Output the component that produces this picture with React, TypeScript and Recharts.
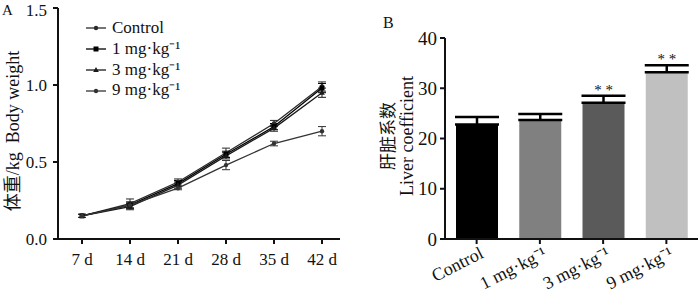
import React from "react";
import {
  LineChart, Line, BarChart, Bar, XAxis, YAxis, ErrorBar, Legend, Cell, LabelList,
} from "recharts";

const FONT = '"Liberation Serif", "Times New Roman", "Noto Sans CJK SC", serif';
const CJK = '"Noto Sans CJK SC", "Liberation Serif", serif';

// panel A: body weight (kg) over time
const DAYS = ["7 d", "14 d", "21 d", "28 d", "35 d", "42 d"];
const CONTROL = [0.15, 0.23, 0.37, 0.56, 0.75, 0.99];
const DOSE_1 = [0.15, 0.22, 0.36, 0.55, 0.73, 0.98];
const DOSE_3 = [0.15, 0.21, 0.35, 0.54, 0.72, 0.95];
const DOSE_9 = [0.15, 0.22, 0.33, 0.48, 0.62, 0.70];
const CONTROL_ERR = [0.01, 0.03, 0.02, 0.03, 0.02, 0.03];
const DOSE_1_ERR = [0.01, 0.02, 0.02, 0.02, 0.02, 0.03];
const DOSE_3_ERR = [0.01, 0.02, 0.02, 0.02, 0.02, 0.03];
const DOSE_9_ERR = [0.01, 0.02, 0.01, 0.03, 0.015, 0.03];

// panel B: liver coefficient
const GROUPS = ["Control", "1 mg·kg⁻¹", "3 mg·kg⁻¹", "9 mg·kg⁻¹"];
const LIVER = [22.8, 23.7, 27.1, 33.2];
const LIVER_ERR = [1.5, 1.2, 1.4, 1.4];
const SIG = ["", "", "* *", "* *"];
const BAR_COLORS = ["#000000", "#808080", "#5a5a5a", "#c0c0c0"];

const SERIES = [
  { key: "control", name: "Control", err: "controlErr", color: "#2a2a2a", shape: "circle" },
  { key: "dose1", name: "1 mg·kg⁻¹", err: "dose1Err", color: "#000000", shape: "square" },
  { key: "dose3", name: "3 mg·kg⁻¹", err: "dose3Err", color: "#1a1a1a", shape: "triangle" },
  { key: "dose9", name: "9 mg·kg⁻¹", err: "dose9Err", color: "#333333", shape: "circle" },
];

const weightData = DAYS.map((day, i) => ({
  day,
  control: CONTROL[i], controlErr: CONTROL_ERR[i],
  dose1: DOSE_1[i], dose1Err: DOSE_1_ERR[i],
  dose3: DOSE_3[i], dose3Err: DOSE_3_ERR[i],
  dose9: DOSE_9[i], dose9Err: DOSE_9_ERR[i],
}));

const liverData = GROUPS.map((group, i) => ({
  group, value: LIVER[i], err: [0, LIVER_ERR[i]], sig: SIG[i],
}));

const Marker = ({ cx, cy, shape, color }: any) => {
  if (cx == null || cy == null) return null;
  if (shape === "square") return <rect x={cx - 2.5} y={cy - 2.5} width={5} height={5} fill={color} />;
  if (shape === "triangle")
    return <path d={`M${cx},${cy - 3}L${cx + 2.8},${cy + 2}L${cx - 2.8},${cy + 2}Z`} fill={color} />;
  return <circle cx={cx} cy={cy} r={2.2} fill={color} />;
};

const WeightLegend = () => (
  <div style={{ fontFamily: FONT, fontSize: 17, color: "#111", lineHeight: "20.8px" }}>
    {SERIES.map((s) => (
      <div key={s.key} style={{ display: "flex", alignItems: "center" }}>
        <svg width={22} height={10} style={{ marginRight: 5 }}>
          <line x1={1} y1={5} x2={21} y2={5} stroke={s.color} strokeWidth={1.3} />
          <Marker cx={11} cy={5} shape={s.shape} color={s.color} />
        </svg>
        <span>{s.name}</span>
      </div>
    ))}
  </div>
);

const GroupTick = ({ x, y, payload }: any) => (
  <text
    x={x + 8}
    y={y + 11}
    textAnchor="end"
    transform={`rotate(-27 ${x + 8} ${y + 11})`}
    fontFamily={FONT}
    fontSize={18}
    fill="#111"
  >
    {payload.value}
  </text>
);

const SigLabel = ({ x, y, width, value }: any) =>
  value ? (
    <text x={x + width / 2} y={y - 8} textAnchor="middle" fontFamily={FONT} fontSize={15} fill="#111">
      {value}
    </text>
  ) : null;

const axisProps = {
  stroke: "#111",
  strokeWidth: 2,
  tickSize: 5,
};

export default function App() {
  return (
    <div style={{ position: "absolute", left: 0, top: 0, width: 700, height: 291, background: "#fff" }}>
      <svg width={700} height={291} style={{ position: "absolute", left: 0, top: 0 }}>
        <text x={2} y={15} fontFamily={FONT} fontSize={15} fill="#111">A</text>
        <text x={383} y={28} fontFamily={FONT} fontSize={16} fill="#111">B</text>
        <g transform="translate(19 131) rotate(-90)">
          <text x={0} y={0} textAnchor="middle" fontFamily={FONT} fontSize={18} fill="#111">
            <tspan fontFamily={CJK}>体重</tspan>/kg{"\u00a0\u00a0"}Body weight
          </text>
        </g>
        <g transform="translate(400 136) rotate(-90)">
          <text x={0} y={-6} textAnchor="middle" fontFamily={CJK} fontSize={17} fill="#111">
            肝脏系数
          </text>
          <text x={0} y={13} textAnchor="middle" fontFamily={FONT} fontSize={18} fill="#111">
            Liver coefficient
          </text>
        </g>
      </svg>

      <div style={{ position: "absolute", left: 0, top: 0 }}>
        <LineChart width={350} height={291} data={weightData} margin={{ top: 8, right: 10, bottom: 22, left: 0 }}>
          <XAxis
            dataKey="day"
            {...axisProps}
            height={30}
            tickMargin={9}
            padding={{ left: 24, right: 18 }}
            tick={{ fill: "#111", fontSize: 17, fontFamily: FONT }}
          />
          <YAxis
            {...axisProps}
            width={58}
            domain={[0, 1.5]}
            ticks={[0, 0.5, 1, 1.5]}
            tickMargin={6}
            tick={{ fill: "#111", fontSize: 17, fontFamily: FONT }}
            tickFormatter={(v: number) => v.toFixed(1)}
          />
          <Legend
            layout="vertical"
            align="center"
            verticalAlign="middle"
            wrapperStyle={{ left: 85, top: 18, width: 130 }}
            content={() => <WeightLegend />}
          />
          {SERIES.map((s) => (
            <Line
              key={s.key}
              dataKey={s.key}
              name={s.name}
              stroke={s.color}
              strokeWidth={1.3}
              isAnimationActive={false}
              dot={(p: any) => <Marker key={`${s.key}-${p.index}`} cx={p.cx} cy={p.cy} shape={s.shape} color={s.color} />}
              activeDot={false}
            >
              <ErrorBar dataKey={s.err} width={4} stroke={s.color} strokeWidth={1} />
            </Line>
          ))}
        </LineChart>
      </div>

      <div style={{ position: "absolute", left: 350, top: 0 }}>
        <BarChart width={350} height={291} data={liverData} margin={{ top: 38, right: 2, bottom: 22, left: 0 }}>
          <XAxis dataKey="group" {...axisProps} height={30} tick={<GroupTick />} interval={0} />
          <YAxis
            {...axisProps}
            width={95}
            domain={[0, 40]}
            ticks={[0, 10, 20, 30, 40]}
            tickMargin={3}
            tick={{ fill: "#111", fontSize: 19, fontFamily: FONT }}
          />
          <Bar dataKey="value" barSize={42} isAnimationActive={false}>
            {liverData.map((d, i) => (
              <Cell key={d.group} fill={BAR_COLORS[i]} />
            ))}
            <ErrorBar dataKey="err" width={22} stroke="#000" strokeWidth={2.5} />
            <LabelList dataKey="sig" content={<SigLabel />} />
          </Bar>
        </BarChart>
      </div>
    </div>
  );
}
